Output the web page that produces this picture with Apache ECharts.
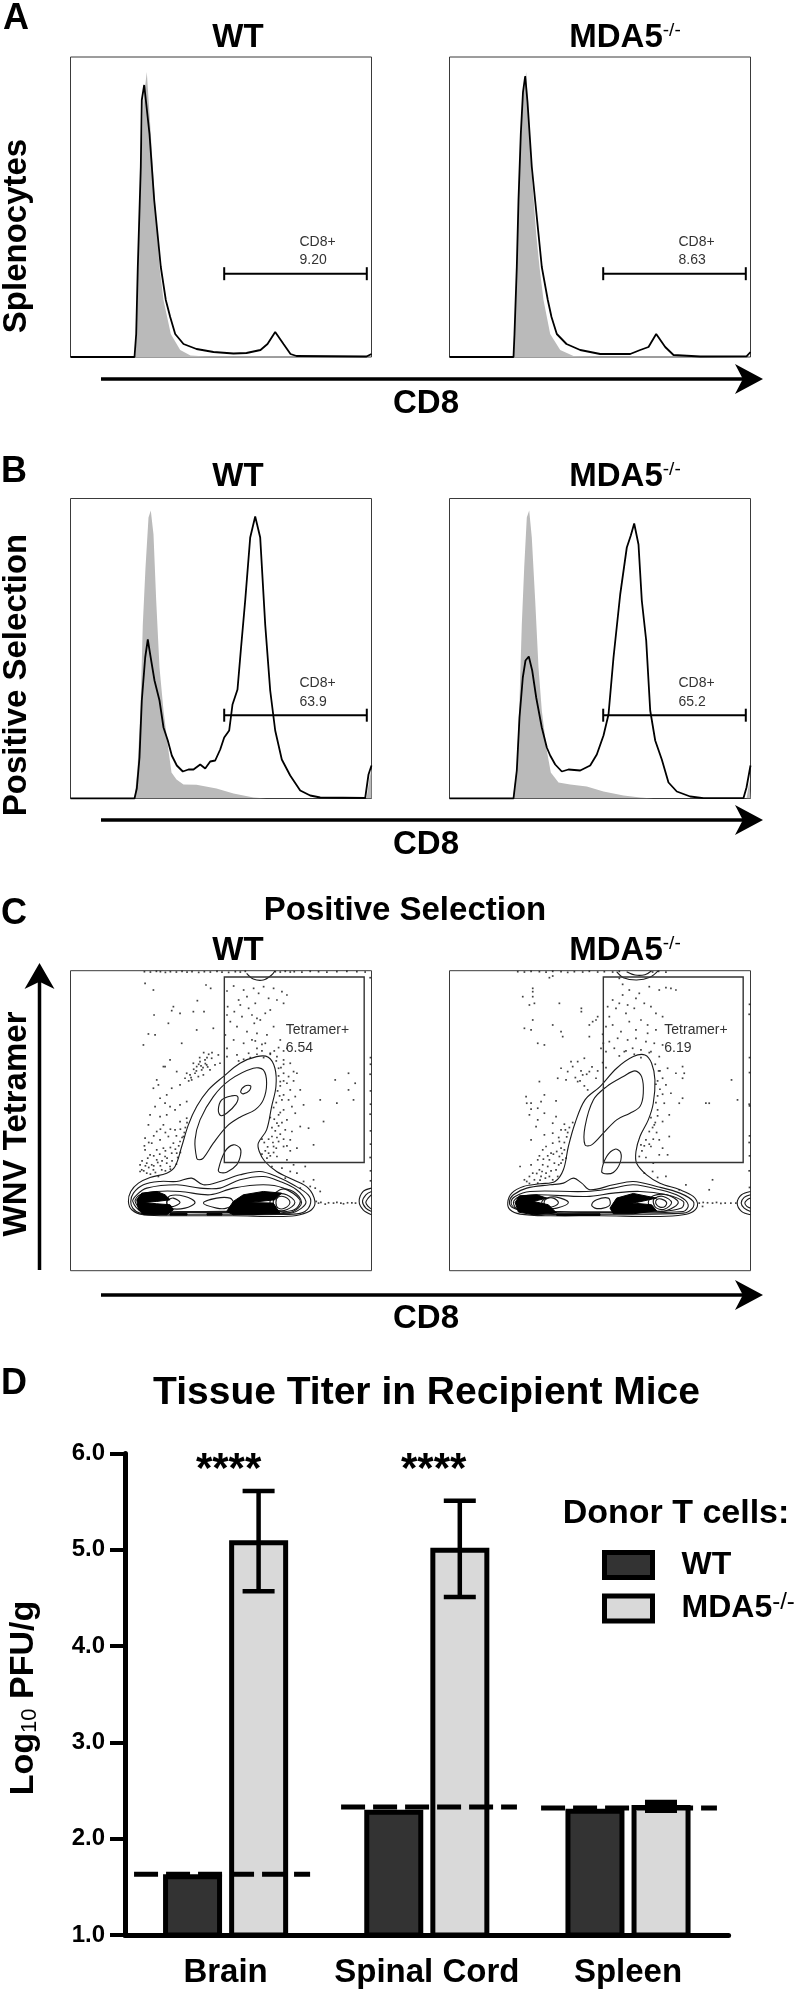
<!DOCTYPE html>
<html><head><meta charset="utf-8">
<style>html,body{margin:0;padding:0;background:#fff}#c{width:800px;height:1989px}</style>
<script src="https://cdn.jsdelivr.net/npm/echarts@6/dist/echarts.min.js"></script>
</head><body><div id="c"></div>
<script>
// ---------- Histogram data: [CD8 channel, count] ----------
const histAWtGray=[[0,0],[64.7,0],[66,23],[67.7,90],[70.7,190],[73,257],[76.3,285],[80.3,223],[84.3,157],[89,90],[93,57],[100.3,23],[109.7,7],[120,1.5],[136,0.5],[220,0],[301,0]];
const histAWtLine=[[0,0],[64,0],[65.7,23],[67.3,90],[70.3,190],[71.3,257],[73.7,272],[75.5,270],[79,223],[83.7,157],[90.3,90],[95.3,57],[99.7,40],[104.7,23],[113,13],[126,8],[143,5],[163,3.5],[176,4],[190,7],[197,13],[204.7,25],[213,13],[220,3],[226,1],[296,0.5],[301,3]];
const histAMdaGray=[[0,0],[64,0],[65,23],[67.3,90],[69.2,157],[71.5,223],[74,265],[76.7,285],[81.7,190],[86.7,123],[90,90],[94,57],[100.7,23],[110.7,7],[124,1],[150,0],[301,0]];
const histAMdaLine=[[0,0],[64,0],[65,23],[67.3,90],[69,157],[71.3,223],[73.5,265],[75.7,281],[78,255],[82.3,190],[89,123],[92.3,90],[98.3,57],[102,40],[107.3,23],[117,13],[130.7,7],[150.7,3],[180.7,3],[190.7,7],[199,10],[206.7,23],[215.7,10],[224,2],[250.7,0.5],[297,0.7],[301,5]];
const histBWtGray=[[0,0],[64,0],[67,30],[70,90],[72.3,174],[75,231],[78,281],[80.3,288],[83,264],[85.7,198],[89,131],[93,88],[98,48],[101,26],[106,19],[113,14],[126,13.7],[146,10],[163,5],[183,1],[196,0],[296,0],[299,20],[301,30]];
const histBWtLine=[[0,0],[64,0],[66.3,10],[69,41],[71.3,98],[74.7,141],[77.3,159],[79.7,144],[84,118],[89,98],[93,71],[97.3,58],[101.3,43],[106.3,33],[112.3,27],[118,29],[123,29],[129.7,34],[134.7,30],[139.7,37],[144.7,38],[149.7,49],[153.7,61],[158.7,68],[162,94],[167,109],[170.3,148],[174.7,198],[179.7,261],[184.7,282],[189.7,261],[194.7,174],[199.7,108],[204.7,68],[211.3,39],[219.7,23],[229.7,8],[239.7,3],[249.7,1],[294.7,0.5],[298,24],[301,33]];
const histBMdaGray=[[0,0],[63.3,0],[67.3,31],[70,98],[72.3,174],[74.7,231],[77.3,281],[79.7,288],[82.3,261],[85.7,198],[89,131],[92.3,88],[97.3,48],[101.3,26],[109,16],[120.7,14],[137.3,12],[154,7],[174,3],[190.7,1],[204,0],[297,0],[300,18],[301,20]];
const histBMdaLine=[[0,0],[64,0],[67.3,28],[70,81],[73.3,121],[76,138],[79.3,142],[82.7,128],[86.7,101],[92.3,71],[97.3,51],[100.7,43],[105.7,34],[112.3,27],[119,29],[130.7,28],[140.7,33],[147.3,44],[154,63],[159,84],[164,141],[170.7,204],[177.3,251],[181.3,263],[184.7,275],[189,254],[192.3,198],[196.7,158],[200.7,88],[205.7,58],[212.3,39],[219,16],[227.3,7],[240.7,2],[254,0.3],[294,0.5],[297,11],[301,33]];
// gate: [from, to, height]
const gateCD8A=[153.7,296.3,83.3];
const gateCD8B=[153.7,296.3,83.3];
const labelsA=[['CD8+','9.20'],['CD8+','8.63']];
const labelsB=[['CD8+','63.9'],['CD8+','65.2']];
const labelsC=[['Tetramer+','6.54'],['Tetramer+','6.19']];
// ---------- Contour plot: CD8 channel, tetramer channel ----------
const gateTet=[462,882,325,882];
const wtContours=[
 [[174,208],[181,238],[204,263],[239,280],[289,293],[314,313],[334,373],[354,438],[379,493],[414,543],[459,583],[509,623],[559,643],[594,641],[614,608],[617,553],[604,493],[589,423],[564,383],[567,358],[584,328],[619,298],[669,273],[714,248],[734,208],[724,183],[689,168],[639,163],[489,165],[339,165],[219,168],[184,183]],
 [[379,338],[374,393],[389,453],[429,523],[479,573],[549,608],[579,603],[589,563],[579,513],[554,483],[509,461],[469,433],[429,383],[399,338],[386,333]],
 [[444,483],[454,513],[484,525],[502,523],[497,501],[469,473],[451,466]],
 [[511,538],[524,555],[541,555],[537,541],[519,531]],
 [[444,303],[464,358],[489,378],[509,368],[511,348],[499,318],[469,296],[449,295]],
 [[181,208],[189,233],[219,258],[269,268],[319,268],[364,278],[399,258],[449,268],[509,288],[569,298],[619,283],[669,258],[714,228],[721,203],[704,178],[669,170],[489,170],[289,170],[209,173],[187,188]],
 [[187,208],[199,228],[229,248],[319,258],[389,248],[449,248],[509,273],[579,283],[629,268],[679,243],[707,208],[694,188],[659,173],[489,175],[289,175],[214,178]],
 [[194,208],[209,228],[259,238],[329,238],[419,228],[489,248],[579,258],[639,248],[689,213],[679,188],[649,178],[489,178],[219,183]],
 [[329,205],[309,218],[294,213],[289,205],[294,196],[309,193]],
 [[374,205],[344,223],[299,225],[289,205],[299,188],[344,188]],
 [[399,203],[439,218],[479,218],[489,203],[469,188],[439,188]],
 [[674,205],[649,228],[619,228],[609,205],[619,183],[649,183]],
 [[659,205],[644,221],[624,221],[617,205],[624,188],[644,188]],
 [[694,205],[669,238],[629,243],[599,205],[629,178],[669,178]]
];
const wtOpen=[
 [[529,893],[549,876],[579,873],[604,888],[614,901]],
 [[904,248],[879,238],[867,208],[879,183],[904,168]],
 [[904,238],[887,228],[877,208],[887,188],[904,178]],
 [[904,228],[894,218],[887,205],[894,193],[904,185]]
];
const wtBlack=[
 [[199,213],[214,233],[259,238],[284,228],[299,213],[259,208],[219,205],[259,201],[299,198],[309,183],[289,168],[219,168],[204,183]],
 [[469,178],[489,208],[519,228],[579,238],[634,233],[614,213],[569,208],[529,205],[609,203],[629,173],[549,168],[489,168]],
 [[299,172],[350,172],[350,167],[299,167]],
 [[410,172],[455,172],[455,167],[410,167]]
];
const mdaContours=[
 [[175,205],[187,233],[222,253],[272,261],[317,268],[342,303],[357,373],[377,443],[407,513],[452,553],[502,608],[552,643],[587,648],[607,623],[617,573],[612,503],[597,453],[572,403],[560,358],[562,323],[592,288],[632,263],[692,243],[732,223],[745,198],[732,178],[702,168],[632,163],[452,165],[302,165],[212,170],[182,183]],
 [[407,378],[407,433],[432,513],[472,553],[522,583],[557,600],[577,583],[582,533],[572,493],[542,473],[502,453],[462,413],[427,378]],
 [[457,298],[472,343],[497,365],[514,355],[512,323],[492,295],[467,291]],
 [[180,205],[192,228],[232,248],[302,258],[342,263],[372,278],[397,263],[422,243],[492,258],[552,268],[622,253],[692,233],[732,208],[730,188],[702,173],[452,170],[252,171],[192,188]],
 [[185,205],[197,223],[242,238],[412,238],[492,248],[552,258],[632,243],[692,223],[717,198],[702,178],[452,175],[252,176],[197,188]],
 [[192,205],[207,221],[262,228],[412,223],[492,233],[572,238],[652,228],[702,208],[697,188],[632,178],[302,178],[207,183]],
 [[327,205],[312,218],[292,216],[284,205],[292,193],[312,193]],
 [[357,205],[322,221],[292,218],[277,205],[292,188],[322,188]],
 [[427,198],[442,213],[477,218],[482,198],[462,188],[437,188]],
 [[667,205],[642,223],[617,218],[612,205],[622,188],[647,185]],
 [[652,205],[637,215],[622,213],[620,201],[632,191],[647,193]],
 [[687,205],[652,228],[612,225],[597,205],[612,183],[652,181]]
];
const mdaOpen=[
 [[502,898],[522,880],[562,873],[602,881],[627,901]],
 [[532,898],[557,888],[587,889],[607,901]],
 [[904,238],[877,228],[864,203],[877,178],[904,168]],
 [[904,228],[885,220],[876,203],[885,188],[904,178]],
 [[904,218],[893,212],[887,203],[893,193],[904,188]]
];
const mdaBlack=[
 [[197,205],[210,225],[262,228],[292,218],[252,208],[297,198],[322,173],[252,168],[207,176]],
 [[482,188],[502,218],[552,232],[622,218],[562,205],[532,205],[607,198],[622,180],[552,171],[492,171]],
 [[322,171],[452,171],[452,166],[322,166]]
];
const wtDots=[[224,863],[249,843],[407,858],[421,848],[309,793],[304,781],[329,773],[251,768],[381,811],[369,778],[401,778],[294,743],[254,708],[234,711],[219,678],[429,728],[379,723],[334,683],[299,633],[279,613],[259,573],
[284,613],[319,598],[349,593],[369,623],[379,613],[389,628],[404,633],[409,618],[394,603],[374,593],[359,588],[344,578],[364,573],[399,588],[424,638],[444,648],[434,618],[419,603],[449,623],[384,583],[329,558],[304,548],[289,528],[269,518],[249,548],[264,558],[284,503],[299,493],[254,493],[239,468],[269,463],[289,468],[314,483],[329,498],[349,508],[279,438],[259,418],[234,438],[224,398],[244,383],[269,393],[294,403],[314,423],[329,448],[349,458],[304,353],[284,343],[259,333],[239,348],[224,363],[299,313],[274,303],[249,303],[229,293],[214,303],[264,283],[244,318],[289,323],[319,353],[329,388],[339,403],[309,383],[279,368],[209,298],[259,363],[229,323],[209,318],
[220,300],[235,310],[250,315],[262,325],[275,330],[290,338],[305,330],[318,320],[300,305],[285,300],[270,315],[255,295],[240,290],[225,315],[215,330],[232,338],[250,345],[268,350],[285,360],[300,370],[315,365],[325,375],[330,355],[322,340],[335,400],[342,415],[345,430],[350,445],[330,425],[318,405],[300,425],[285,415],[270,425],[250,405],[235,385],[222,375],[385,620],[392,615],[398,610],[405,622],[412,612],[378,600],[370,605],[362,580],[355,570],[410,640],[425,655],[415,650],[400,655],[388,640],
[470,840],[490,855],[520,843],[550,848],[580,853],[610,848],[635,838],[650,828],[505,813],[530,823],[565,833],[595,818],[472,793],[492,778],[515,763],[470,768],[535,788],[555,803],[510,798],[545,768],[560,758],[552,743],[570,753],[585,773],[600,783],[620,813],[640,803],[480,748],[500,733],[530,718],[545,693],[560,713],[590,708],[610,733],[630,693],[650,668],[465,708],[490,693],[520,683],[470,668],[535,653],[560,668],[585,683],[600,653],[620,643],[640,633],[660,623],[470,643],[500,648],[580,640],
[625,608],[640,593],[655,583],[630,568],[650,563],[670,598],[680,593],[660,543],[640,528],[635,513],[655,513],[675,523],[690,543],[665,493],[640,483],[625,468],[650,453],[675,473],[700,498],[620,443],[645,423],[665,418],[690,433],[605,403],[625,388],[610,373],[640,373],[660,393],[680,368],[595,353],[620,343],[650,333],[670,318],[590,338],[605,313],[635,308],[660,298],[645,278],[680,293],[700,268],[720,253],[735,248],[750,238],[690,248],[730,273],[705,313],[730,378],[760,448],[795,573],[835,593],[855,563],[835,543],[850,513],[750,513],[800,503],[640,660],[670,570],[715,428],
[575,350],[585,360],[592,372],[600,345],[610,355],[618,368],[575,395],[582,385],[595,395],[608,385],[620,400],[630,410],[640,395],[650,375],[660,360],[605,430],[615,420],[625,435],[635,445],[600,460],[612,455],[630,475],[610,490],[618,505],[628,525],[622,540],[630,555],[640,570],[625,585],[632,610],[640,620],[618,630],[600,650],[612,660],[625,670],[575,660],[560,650],[540,640],[520,635],[505,630],[575,680],[555,690],
[738,208],[745,203],[752,205],[765,200],[775,204],[790,203],[800,205],[812,203],[820,201],[832,204],[845,204],[856,203],
[222,898],[240,897],[258,899],[270,898],[285,896],[300,898],[318,897],[335,899],[350,897],[365,898],[385,896],[402,898],[420,897],[440,899],[455,897],[475,896],[495,898],[510,897],[525,899],[615,898],[630,897],[645,899],[660,897],[672,898],[695,897],[720,899],[745,898],[770,897],[800,898],[830,899],[860,898],[885,897],
[901,640],[901,620],[900,590],[901,540],[901,500],[900,470],[901,420],[901,380],[900,340],[901,300],[901,270],[900,880]];
const mdaDots=[[250,848],[250,838],[250,823],[220,823],[255,803],[240,798],[330,803],[396,788],[396,778],[250,753],[310,738],[225,728],[245,723],[335,718],[340,703],[285,678],[265,683],[420,738],[430,748],[440,753],[445,763],[460,710],[462,683],[455,668],[420,703],[405,638],[385,628],[355,598],[335,608],[370,613],[350,573],[385,568],[400,588],[420,598],[440,578],[415,543],[365,628],[325,578],[270,568],[245,503],[245,485],[232,503],[265,488],[285,473],[265,453],[320,463],[310,443],[348,423],[320,510],[285,528],[230,523],[240,468],[275,508],[260,433],[285,408],[310,413],[335,423],[290,373],[245,393],[280,363],[310,383],[330,343],[300,333],[265,333],[212,313],[245,318],[270,303],[290,293],[240,283],[225,273],[265,263],[300,283],[320,303],[335,323],[345,363],[330,388],[305,353],[250,293],[280,318],[315,323],[295,313],[325,283],[340,333],[255,273],[275,283],[310,273],[350,338],
[270,345],[282,335],[295,345],[312,350],[322,358],[335,368],[345,385],[352,402],[338,352],[328,318],[305,300],[288,278],[272,272],[240,262],[232,268],[262,292],[278,298],[355,415],[360,430],[370,445],[345,440],[328,400],[395,600],[412,590],[428,612],[445,600],[460,625],[470,610],[378,580],[392,570],[405,555],
[510,878],[520,860],[540,843],[570,833],[600,853],[630,843],[650,850],[665,848],[680,843],[520,828],[490,813],[510,803],[535,798],[560,818],[585,803],[605,793],[620,773],[640,763],[475,793],[500,788],[480,763],[530,773],[555,788],[575,753],[595,738],[470,733],[490,738],[515,718],[540,748],[560,723],[595,713],[620,723],[480,688],[505,698],[535,693],[560,698],[590,688],[615,683],[640,678],[470,658],[495,668],[525,658],[550,668],[575,663],[605,658],[630,643],[655,608],[680,593],[700,613],[700,578],
[618,620],[632,600],[640,578],[650,558],[620,560],[640,530],[665,533],[690,503],[700,518],[645,503],[660,468],[625,483],[640,448],[615,438],[660,403],[630,393],[600,418],[575,378],[590,393],[605,373],[640,368],[570,343],[590,340],[612,323],[630,348],[655,348],[585,293],[610,298],[625,280],[650,283],[690,243],[710,258],[760,193],[780,243],[790,273],[705,593],[780,503],[847,573],[865,513],[770,503],
[578,360],[585,375],[600,380],[612,395],[622,415],[610,430],[618,445],[605,460],[625,465],[620,505],[625,525],[632,545],[625,570],[628,600],[600,655],[575,640],[555,650],[530,660],[510,645],
[750,203],[762,205],[775,204],[790,203],[802,205],[815,202],[828,203],[845,203],[860,203],
[205,898],[225,897],[245,899],[270,898],[290,897],[310,899],[335,898],[355,896],[375,898],[400,897],[420,899],[445,897],[465,898],[490,897],[510,899],[610,897],[628,899],[650,897],[300,880],[310,885],
[901,800],[900,770],[901,595],[900,500],[901,495],[901,405],[900,385],[901,345],[900,300],[901,250],[901,640]];
// ---------- Bar chart ----------
const tissues=['Brain','Spinal Cord','Spleen'];
const titerWT=[1.63,2.3,2.31];
const titerMDA=[5.1,5.02,2.35];
const errLow=[4.57,4.51,2.29];
const errHigh=[5.61,5.51,2.38];
const lodValues=[1.63,2.33,2.32];
const lodFrom=[0.045,1.074,2.068];
const lodTo=[0.92,1.948,2.942];
const yTicks=[1,2,3,4,5,6];
const sigMarks=['****','****'];

const FF='"Liberation Sans",Arial,sans-serif';
const chart=echarts.init(document.getElementById('c'),null,{width:800,height:1989});
const panelTop=[57,498.5,970.7], panelLeft=[70.5,449.5];
const grids=[],xAxes=[],yAxes=[],series=[];
const hide={show:false};
function addGrid(l,t,xMax,yMax){
 const i=grids.length;
 grids.push({left:l,top:t,width:301,height:300,show:true,borderColor:'#3a3a3a',borderWidth:1,backgroundColor:'#fff'});
 xAxes.push({type:'value',gridIndex:i,min:0,max:xMax,show:false,splitLine:hide});
 yAxes.push({type:'value',gridIndex:i,min:0,max:yMax,show:false,splitLine:hide});
 return i;
}
function hist(i,gray,line,gate){
 series.push({type:'line',xAxisIndex:i,yAxisIndex:i,data:gray,showSymbol:false,lineStyle:{width:0},areaStyle:{color:'#bababa',opacity:1},z:2,silent:true});
 series.push({type:'line',xAxisIndex:i,yAxisIndex:i,data:line,showSymbol:false,lineStyle:{color:'#000',width:1.8},z:3,silent:true});
 series.push({type:'custom',xAxisIndex:i,yAxisIndex:i,data:[gate],z:4,silent:true,encode:{x:0,y:2},
  renderItem:(p,api)=>{const a=api.coord([api.value(0),api.value(2)]),b=api.coord([api.value(1),api.value(2)]);
   const st={stroke:'#000',lineWidth:2};
   return {type:'group',children:[
    {type:'line',shape:{x1:a[0],y1:a[1],x2:b[0],y2:b[1]},style:st},
    {type:'line',shape:{x1:a[0],y1:a[1]-6.5,x2:a[0],y2:a[1]+6.5},style:st},
    {type:'line',shape:{x1:b[0],y1:b[1]-6.5,x2:b[0],y2:b[1]+6.5},style:st}]};}});
}
function shapes(i,list,kind){
 series.push({type:'custom',xAxisIndex:i,yAxisIndex:i,clip:true,silent:true,z:kind==='fill'?5:4,
  data:list.map((c,k)=>[c[0][0],c[0][1],k]),encode:{x:0,y:1},
  renderItem:(p,api)=>{const pts=list[p.dataIndex].map(q=>api.coord(q));
   if(kind==='fill')return {type:'polygon',shape:{points:pts},style:{fill:'#000',stroke:'#000',lineWidth:1}};
   return {type:kind==='open'?'polyline':'polygon',shape:{points:pts,smooth:0.35},style:{fill:null,stroke:'#1a1a1a',lineWidth:1.1}};}});
}
function contour(i,closed,open,black,dots,gate){
 shapes(i,closed,'closed');shapes(i,open,'open');shapes(i,black,'fill');
 series.push({type:'scatter',xAxisIndex:i,yAxisIndex:i,data:dots,symbol:'rect',symbolSize:1.7,itemStyle:{color:'#111'},z:3,silent:true});
 series.push({type:'custom',xAxisIndex:i,yAxisIndex:i,data:[gate],silent:true,z:6,encode:{x:0,y:2},
  renderItem:(p,api)=>{const a=api.coord([api.value(0),api.value(3)]),b=api.coord([api.value(1),api.value(2)]);
   return {type:'rect',shape:{x:a[0],y:a[1],width:b[0]-a[0],height:b[1]-a[1]},style:{fill:null,stroke:'#333',lineWidth:1.4}};}});
}
[0,1].forEach(c=>{
 const a=addGrid(panelLeft[c],panelTop[0],301,300);
 hist(a,c?histAMdaGray:histAWtGray,c?histAMdaLine:histAWtLine,gateCD8A);
});
[0,1].forEach(c=>{
 const b=addGrid(panelLeft[c],panelTop[1],301,300);
 hist(b,c?histBMdaGray:histBWtGray,c?histBMdaLine:histBWtLine,gateCD8B);
});
[0,1].forEach(c=>{
 const g=addGrid(panelLeft[c],panelTop[2],904,901);
 contour(g,c?mdaContours:wtContours,c?mdaOpen:wtOpen,c?mdaBlack:wtBlack,c?mdaDots:wtDots,gateTet);
});
// bar grid
const D=grids.length;
grids.push({left:125,top:1453.5,width:603.6,height:481.5});
xAxes.push({type:'category',gridIndex:D,data:tissues,boundaryGap:true,
 axisLine:{lineStyle:{color:'#000',width:5}},axisTick:{alignWithLabel:true,length:16,lineStyle:{color:'#000',width:4}},
 axisLabel:{color:'#000',fontSize:33,fontWeight:'bold',fontFamily:FF,margin:21,interval:0}});
yAxes.push({type:'value',gridIndex:D,min:1,max:6,interval:1,splitLine:hide,
 axisLine:{show:true,onZero:false,lineStyle:{color:'#000',width:5}},axisTick:{show:true,length:15,lineStyle:{color:'#000',width:4}},
 axisLabel:{color:'#000',fontSize:24,fontWeight:'bold',fontFamily:FF,margin:20,formatter:v=>v.toFixed(1)}});
const DX=xAxes.length;
xAxes.push({type:'value',gridIndex:D,min:0,max:3,show:false,splitLine:hide});
const bs={borderColor:'#000',borderWidth:5};
series.push({type:'bar',name:'WT',xAxisIndex:D,yAxisIndex:D,data:titerWT,barWidth:59,barGap:'12%',itemStyle:{color:'#333333',...bs},z:2,silent:true});
series.push({type:'bar',name:'MDA5-/-',xAxisIndex:D,yAxisIndex:D,data:titerMDA,barWidth:59,barGap:'12%',itemStyle:{color:'#d9d9d9',...bs},z:2,silent:true});
series.push({type:'custom',xAxisIndex:DX,yAxisIndex:D,silent:true,z:5,
 data:errLow.map((l,i)=>[i+0.664,l,errHigh[i]]),encode:{x:0,y:[1,2]},
 renderItem:(p,api)=>{const lo=api.coord([api.value(0),api.value(1)]),hi=api.coord([api.value(0),api.value(2)]);
  const st={stroke:'#000',lineWidth:4.5};
  const stem=(lo[1]-hi[1])<14?{stroke:'#000',lineWidth:32}:st;
  return {type:'group',children:[
   {type:'line',shape:{x1:lo[0],y1:lo[1],x2:hi[0],y2:hi[1]},style:stem},
   {type:'line',shape:{x1:lo[0]-16,y1:lo[1],x2:lo[0]+16,y2:lo[1]},style:st},
   {type:'line',shape:{x1:hi[0]-16,y1:hi[1],x2:hi[0]+16,y2:hi[1]},style:st}]};}});
lodValues.forEach((v,i)=>series.push({type:'line',xAxisIndex:DX,yAxisIndex:D,silent:true,z:6,showSymbol:false,
 data:[[lodFrom[i],v],[lodTo[i],v]],lineStyle:{color:'#000',width:5,type:[24,8]}}));

// ---------- text and arrows ----------
const g=[];
function T(text,x,y,size,o){o=o||{};
 g.push({type:'text',x,y,rotation:o.rot||0,z:20,silent:true,style:{text,fontSize:size,fontWeight:o.w||'bold',fontFamily:FF,fill:o.fill||'#000',align:o.a||'center',verticalAlign:'middle',rich:o.rich}});
}
function arrow(x0,y0,x1,y1,hl,hw){
 const dx=x1-x0,dy=y1-y0,L=Math.hypot(dx,dy),ux=dx/L,uy=dy/L,nx=-uy,ny=ux;
 const bx=x1-ux*hl,by=y1-uy*hl;
 g.push({type:'line',silent:true,shape:{x1:x0,y1:y0,x2:x1-ux*hl*0.6,y2:y1-uy*hl*0.6},style:{stroke:'#000',lineWidth:3.5}});
 g.push({type:'polygon',silent:true,shape:{points:[[x1,y1],[bx+nx*hw,by+ny*hw],[x1-ux*hl*0.72,y1-uy*hl*0.72],[bx-nx*hw,by-ny*hw]]},style:{fill:'#000'}});
}
const mdaRich={a:{fontSize:33,fontWeight:'bold',fontFamily:FF,fill:'#000'},b:{fontSize:19,fontWeight:'normal',fontFamily:FF,fill:'#000',verticalAlign:'top',padding:[0,0,12,0]}};
T('A',16,19,36);T('B',14,472,36);T('C',14,914,36);T('D',14,1384,36);
[38,477,951].forEach(y=>{T('WT',238,y,33);T('{a|MDA5}{b|-/-}',625,y,33,{rich:mdaRich});});
T('Positive Selection',405,911,33);
[404,845,1319].forEach(y=>T('CD8',426,y,33));
[379,820,1295].forEach(y=>arrow(101,y,763,y,28,15));
arrow(39.5,1270,39.5,963,26,15);
T('Splenocytes',17,236,33,{rot:Math.PI/2});
T('Positive Selection',17,675,33,{rot:Math.PI/2});
T('WNV Tetramer',17,1124,33,{rot:Math.PI/2});
const lblX=[299.5,678.5];
labelsA.forEach((l,c)=>{T(l[0],lblX[c],242,14,{w:'normal',a:'left',fill:'#333'});T(l[1],lblX[c],260,14,{w:'normal',a:'left',fill:'#333'});});
labelsB.forEach((l,c)=>{T(l[0],lblX[c],683,14,{w:'normal',a:'left',fill:'#333'});T(l[1],lblX[c],702,14,{w:'normal',a:'left',fill:'#333'});});
const tetX=[285.7,664.3];
labelsC.forEach((l,c)=>{T(l[0],tetX[c],1030,14,{w:'normal',a:'left',fill:'#333'});T(l[1],tetX[c],1048,14,{w:'normal',a:'left',fill:'#333'});});
T('Tissue Titer in Recipient Mice',426.5,1393,39);
T('Donor T cells:',676,1514,34);
sigMarks.forEach((s,i)=>T(s,[228.6,433.7][i],1470,42));
T('{a|Log}{b|10}{a| PFU/g}',24,1698,34,{rot:Math.PI/2,rich:{a:{fontSize:34,fontWeight:'bold',fontFamily:FF,fill:'#000'},b:{fontSize:22,fontWeight:'normal',fontFamily:FF,fill:'#000',verticalAlign:'bottom'}}});

chart.setOption({animation:false,backgroundColor:'#fff',grid:grids,xAxis:xAxes,yAxis:yAxes,series,graphic:g,
 legend:{show:true,orient:'vertical',left:602,top:1549,padding:0,itemGap:9.5,itemWidth:48,itemHeight:25,icon:'rect',data:['WT','MDA5-/-'],selectedMode:false,
  itemStyle:{borderColor:'#000',borderWidth:5},
  formatter:n=>n==='WT'?'{a|WT}':'{a|MDA5}{b|-/-}',
  textStyle:{padding:[0,0,0,24],rich:{a:{fontSize:32,lineHeight:36,fontWeight:'bold',fontFamily:FF,color:'#000'},b:{fontSize:24,lineHeight:20,fontFamily:FF,color:'#000',verticalAlign:'top'}}}}
});
</script></body></html>
